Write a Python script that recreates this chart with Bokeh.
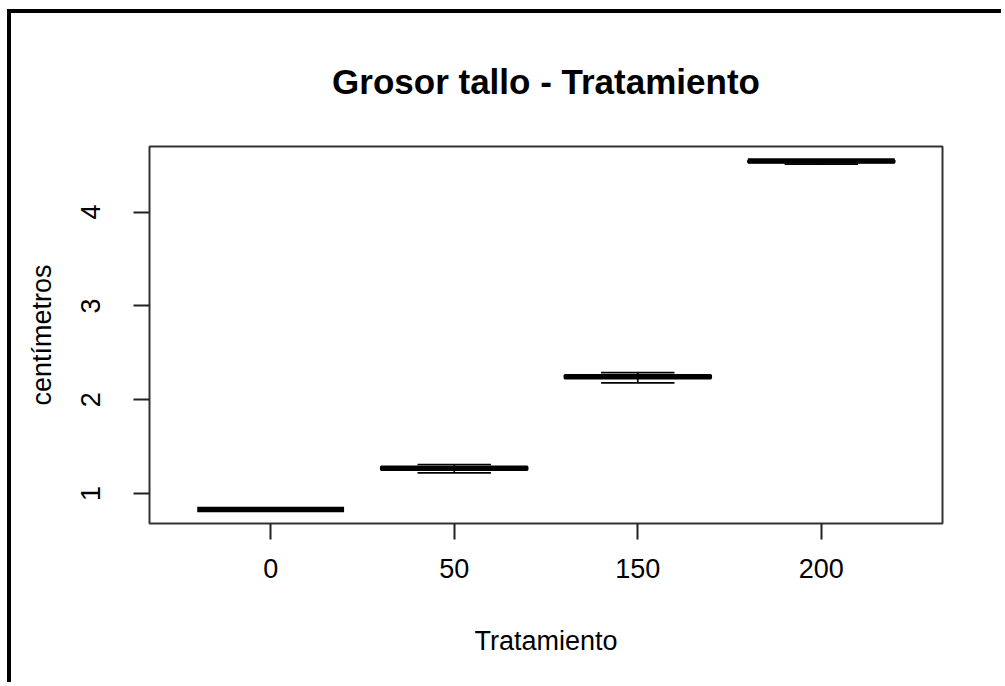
from bokeh.plotting import figure
from bokeh.models import ColumnDataSource, FactorRange, Range1d
from bokeh.embed import file_html
from bokeh.resources import INLINE

# Stem thickness (cm) per treatment: whisker ends, quartiles and median
tratamientos = ["0", "50", "150", "200"]
minimo = [0.83, 1.22, 2.18, 4.51]
q1 = [0.83, 1.255, 2.23, 4.53]
mediana = [0.83, 1.27, 2.245, 4.545]
q3 = [0.83, 1.285, 2.26, 4.55]
maximo = [0.83, 1.31, 2.29, 4.55]

src = ColumnDataSource(dict(
    cat=tratamientos, lo=minimo, q1=q1, med=mediana, q3=q3, hi=maximo,
    box_mid=[(a + b) / 2 for a, b in zip(q1, q3)],
    box_h=[b - a for a, b in zip(q1, q3)],
))

# y limits padded by 4% like a classic base-graphics boxplot
lo_all, hi_all = min(minimo), max(maximo)
pad = 0.04 * (hi_all - lo_all)

FONT = "Liberation Sans"

# page offset of the figure inside its black border
OFF_X, OFF_Y = 11, 13

p = figure(
    width=1005 - OFF_X, height=686 - OFF_Y,
    x_range=FactorRange(factors=tratamientos, range_padding=0.16,
                        range_padding_units="absolute"),
    y_range=Range1d(lo_all - pad, hi_all + pad),
    output_backend="svg", toolbar_location=None,
    min_border_left=149 - OFF_X, min_border_right=63,
    min_border_top=145 - OFF_Y, min_border_bottom=163,
    background_fill_color="white", border_fill_color="white",
)
p.styles = {
    "margin-left": "7px", "margin-top": "9px",
    "border-left": "4px solid black", "border-top": "4px solid black",
}

# whiskers
p.segment(x0="cat", y0="q3", x1="cat", y1="hi", source=src,
          line_color="black", line_width=1.7, line_dash="4 3")
p.segment(x0="cat", y0="q1", x1="cat", y1="lo", source=src,
          line_color="black", line_width=1.7, line_dash="4 3")
# staples
p.rect(x="cat", y="hi", width=0.4, height=1.7, height_units="screen",
       source=src, fill_color="black", line_color=None)
p.rect(x="cat", y="lo", width=0.4, height=1.7, height_units="screen",
       source=src, fill_color="black", line_color=None)
# boxes
p.rect(x="cat", y="box_mid", width=0.8, height="box_h", source=src,
       fill_color=None, line_color="black", line_width=1.7)
# medians
p.rect(x="cat", y="med", width=0.8, height=5.5, height_units="screen",
       source=src, fill_color="black", line_color=None)

# frame and axes
p.grid.visible = False
p.outline_line_color = "#333333"
p.outline_line_width = 2

for ax in (p.xaxis[0], p.yaxis[0]):
    ax.axis_line_color = None
    ax.major_tick_out = 16
    ax.major_tick_in = 0
    ax.major_tick_line_width = 2
    ax.major_tick_line_color = "#222222"
    ax.minor_tick_line_color = None
    ax.major_label_text_font = FONT
    ax.major_label_text_font_size = "27px"
    ax.major_label_text_color = "black"
    ax.axis_label_text_font = FONT
    ax.axis_label_text_font_size = "27px"
    ax.axis_label_text_font_style = "normal"
    ax.axis_label_text_color = "black"

p.yaxis.ticker = [1, 2, 3, 4]
p.yaxis.major_label_orientation = "vertical"
p.yaxis.major_label_standoff = 33
p.yaxis.axis_label = "centímetros"
p.yaxis.axis_label_standoff = 22

p.xaxis.major_label_standoff = 19
p.xaxis.axis_label = "Tratamiento"
p.xaxis.axis_label_standoff = 45

p.title.text = "Grosor tallo - Tratamiento"
p.title.align = "center"
p.title.text_font = FONT
p.title.text_font_size = "35px"
p.title.text_font_style = "bold"
p.title.text_color = "black"
p.title.standoff = 92

open("out.html", "w").write(file_html(p, INLINE))
